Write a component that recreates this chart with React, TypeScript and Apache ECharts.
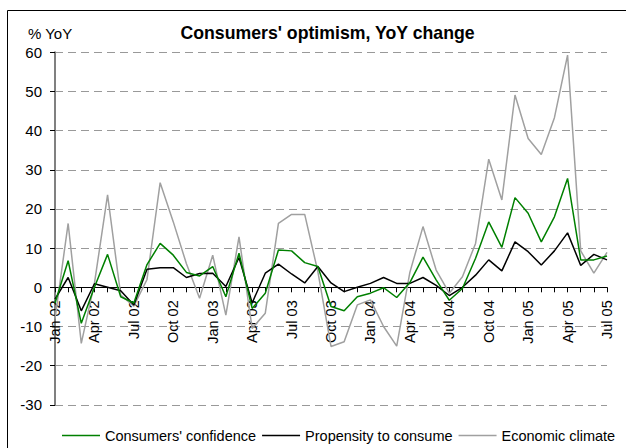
import React, { useEffect, useRef } from "react";
import * as echarts from "echarts";

const categories = [
  "Jan 02", "Feb 02", "Mar 02", "Apr 02", "May 02", "Jun 02", "Jul 02", "Aug 02", "Sep 02", "Oct 02", "Nov 02", "Dec 02",
  "Jan 03", "Feb 03", "Mar 03", "Apr 03", "May 03", "Jun 03", "Jul 03", "Aug 03", "Sep 03", "Oct 03", "Nov 03", "Dec 03",
  "Jan 04", "Feb 04", "Mar 04", "Apr 04", "May 04", "Jun 04", "Jul 04", "Aug 04", "Sep 04", "Oct 04", "Nov 04", "Dec 04",
  "Jan 05", "Feb 05", "Mar 05", "Apr 05", "May 05", "Jun 05", "Jul 05",
];

const confidence = [
  -4, 6.8, -9.2, 0, 8.4, -2.4, -4, 5.8, 11.2, 8.2, 3.8, 2.9,
  5.3, -2.4, 8.7, -5.4, -1.5, 9.5, 9.3, 6.3, 5.3, -4.9, -6.0, -2.4,
  -1.5, -0.1, -2.6, 1.2, 7.7, 1.9, -3.3, -0.3, 7.4, 16.7, 10.2, 22.9,
  18.9, 11.6, 18.0, 27.8, 7.0, 7.0, 8.0,
];

const propensity = [
  -3, 2.5, -6.0, 0.9, 0, -0.9, -4.5, 4.6, 5.0, 5.0, 2.5, 3.5,
  3.6, 0.2, 7.6, -4.0, 3.6, 5.9, 3.4, 1.1, 5.3, 1.1, -1.1, 0,
  1.0, 2.5, 1.0, 1.0, 2.5, 0.5, -2.1, 0, 3.1, 7.0, 4.2, 11.6,
  9.1, 5.7, 9.3, 13.9, 5.6, 8.4, 7.0,
];

const economic = [
  -8, 16.3, -14.3, 1, 23.6, -2, -4.8, 2, 26.7, 16.7, 6, -2.8,
  8.2, -7.1, 12.9, -10.5, -6.6, 16.3, 18.6, 18.6, 4, -15.1, -13.9, -4.5,
  -3.2, -10, -15, 3.8, 15.5, 4.4, -1.5, 2.7, 11.2, 32.7, 22.3, 49.1,
  38.0, 33.9, 43.3, 59.3, 9.3, 3.6, 8.9,
];

const seriesNames = ["Consumers' confidence", "Propensity to consume", "Economic climate"];
const seriesColors = ["#008000", "#000000", "#a0a0a0"];
const yMin = -30;
const yMax = 60;
const yStep = 10;

const FONT = '"Liberation Sans", Arial, sans-serif';

const GRID_TOP = 52.3;
const GRID_BOTTOM = 43.2;
const CHART_H = 448;

export default function App() {
  const ref = useRef<HTMLDivElement>(null);
  useEffect(() => {
    if (!ref.current) return;
    const chart = echarts.init(ref.current, null, { renderer: "svg" });
    const data = [confidence, propensity, economic];
    const plotH = CHART_H - GRID_TOP - GRID_BOTTOM;
    const zeroOffset = ((0 - yMin) / (yMax - yMin)) * plotH;
    chart.setOption({
      animation: false,
      backgroundColor: "#ffffff",
      textStyle: { fontFamily: FONT },
      graphic: [
        {
          type: "rect",
          shape: { x: 7.5, y: 10.5, width: 700, height: 500 },
          style: { fill: "none", stroke: "#000", lineWidth: 1 },
          silent: true,
        },
        {
          type: "text",
          x: 327.5,
          y: 33,
          style: {
            text: "Consumers' optimism, YoY change",
            fontFamily: FONT,
            fontWeight: "bold",
            fontSize: 17.7,
            fill: "#000",
            align: "center",
            verticalAlign: "middle",
          },
        },
        {
          type: "text",
          x: 28,
          y: 33,
          style: {
            text: "% YoY",
            fontFamily: FONT,
            fontSize: 15,
            fill: "#000",
            align: "left",
            verticalAlign: "middle",
          },
        },
      ],
      legend: {
        data: seriesNames,
        left: 62,
        top: 428,
        width: 600,
        padding: 0,
        icon: "rect",
        itemWidth: 38,
        itemHeight: 1.5,
        itemGap: 6,
        textStyle: { fontFamily: FONT, fontSize: 14.5, color: "#000" },
      },
      grid: {
        left: 55,
        right: 19,
        top: GRID_TOP,
        bottom: GRID_BOTTOM,
        containLabel: false,
        outerBoundsMode: "none",
      },
      xAxis: {
        type: "category",
        data: categories,
        boundaryGap: false,
        position: "bottom",
        offset: -zeroOffset,
        axisLine: { onZero: false, lineStyle: { color: "#000", width: 1 } },
        axisTick: { show: true, interval: 0, length: 5, inside: false, lineStyle: { color: "#000" } },
        axisLabel: {
          interval: 2,
          rotate: 90,
          margin: 13,
          fontFamily: FONT,
          fontSize: 14.5,
          color: "#000",
        },
        splitLine: { show: false },
      },
      yAxis: {
        type: "value",
        min: yMin,
        max: yMax,
        interval: yStep,
        axisLine: { show: true, onZero: false, lineStyle: { color: "#808080", width: 2 } },
        axisTick: { show: true, length: 5, lineStyle: { color: "#000" } },
        axisLabel: { margin: 13, fontFamily: FONT, fontSize: 15, color: "#000" },
        splitLine: { show: true, lineStyle: { color: "#999999", width: 1, type: [8, 5] } },
      },
      series: seriesNames.map((name, i) => ({
        name,
        type: "line",
        data: data[i],
        symbol: "none",
        showSymbol: false,
        color: seriesColors[i],
        lineStyle: { color: seriesColors[i], width: 1.5 },
        z: 3 - i,
      })),
    });
    return () => chart.dispose();
  }, []);
  return (
    <div
      ref={ref}
      style={{ position: "fixed", left: 0, top: 0, width: 626, height: 448, background: "#fff" }}
    />
  );
}
